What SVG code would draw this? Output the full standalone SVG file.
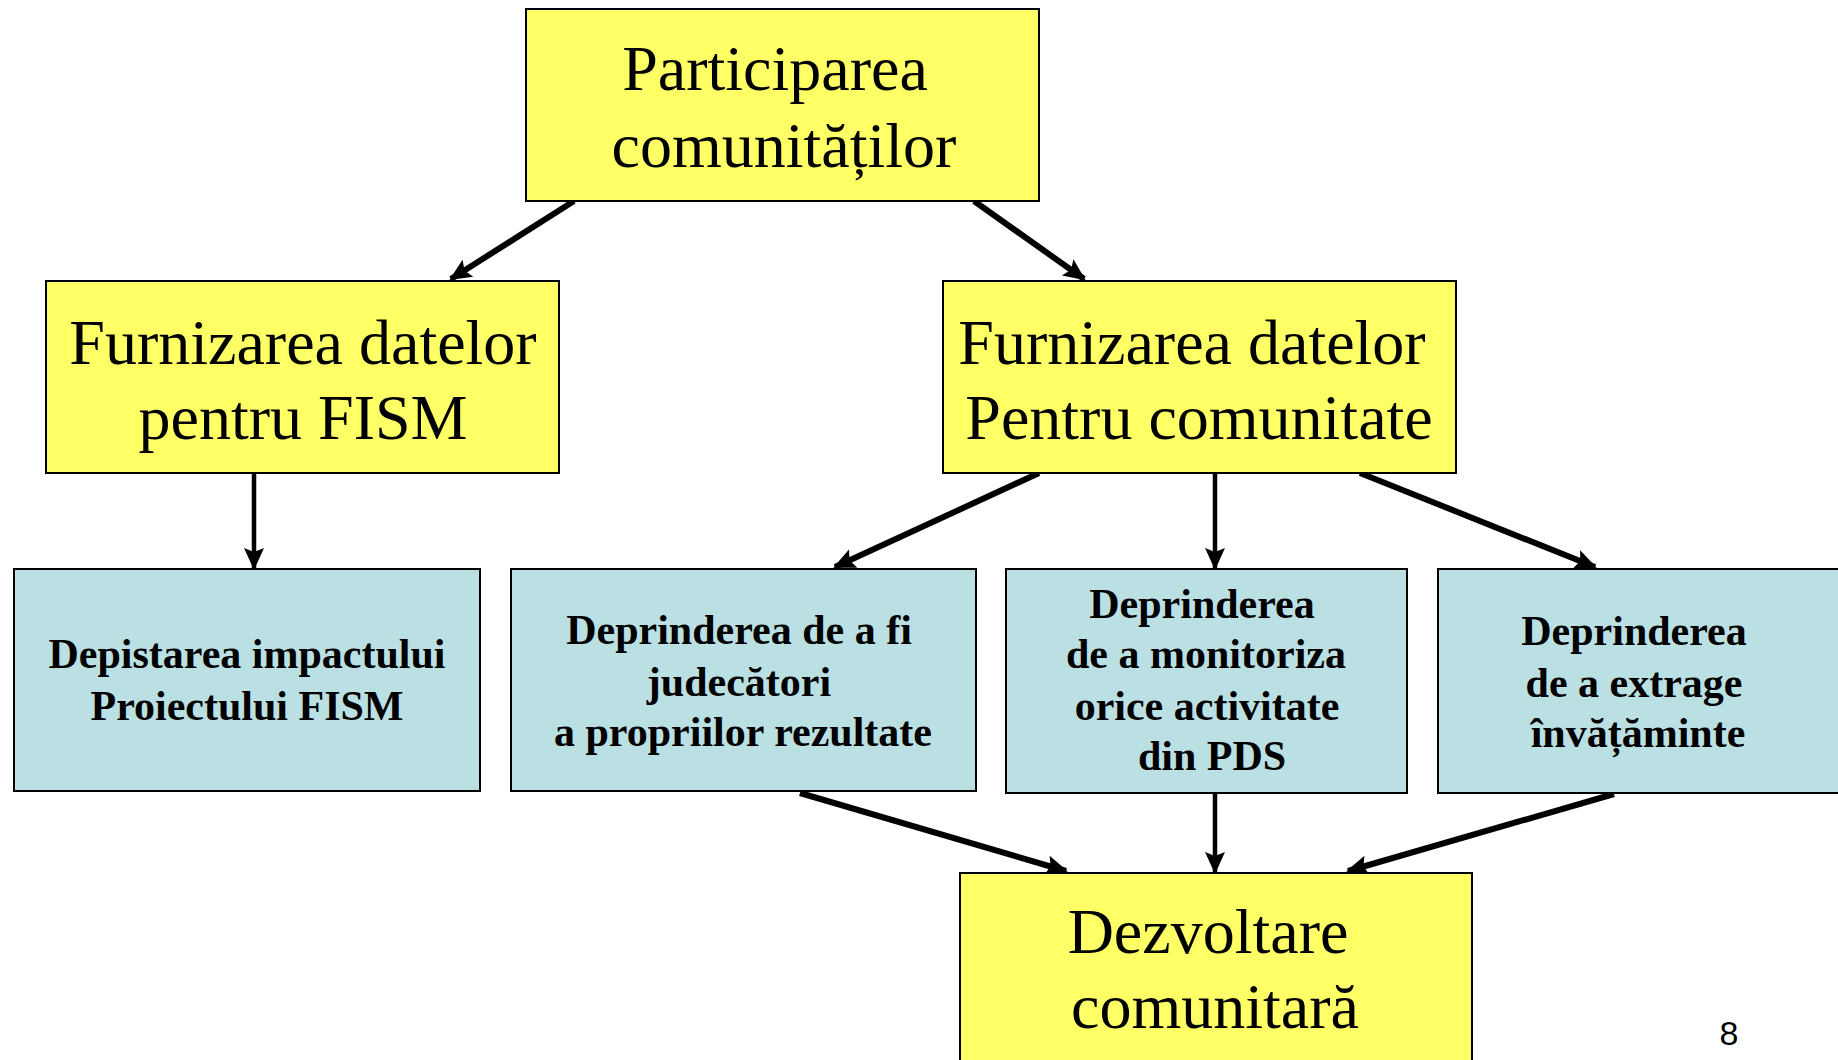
<svg xmlns="http://www.w3.org/2000/svg" width="1838" height="1060" viewBox="0 0 1838 1060">
<style>
.y{fill:#FFFF66;stroke:#000;stroke-width:2}
.b{fill:#BBE0E3;stroke:#000;stroke-width:2}
.ty{font-family:"Liberation Serif","Times New Roman",serif;font-size:64px;fill:#000;text-anchor:middle}
.tb{font-family:"Liberation Serif","Times New Roman",serif;font-size:42px;font-weight:bold;fill:#000;text-anchor:middle}
.c{stroke:#000;fill:none}
.d{stroke-width:6}
.v{stroke-width:4.5}
</style>
<defs>
<marker id="ah" markerUnits="userSpaceOnUse" markerWidth="22" markerHeight="22" viewBox="0 0 22 22" refX="20" refY="11" orient="auto">
<path d="M0,1 L22,11 L0,21 L4,11 Z" fill="#000"/>
</marker>
</defs>
<rect width="1838" height="1060" fill="#fff"/>
<g id="connectors">
<line class="c d" x1="574" y1="201" x2="451" y2="279" marker-end="url(#ah)"/>
<line class="c d" x1="974" y1="201" x2="1084" y2="279" marker-end="url(#ah)"/>
<line class="c v" x1="254" y1="473" x2="254" y2="568" marker-end="url(#ah)"/>
<line class="c d" x1="1039" y1="473" x2="835" y2="567" marker-end="url(#ah)"/>
<line class="c v" x1="1215" y1="473" x2="1215" y2="568" marker-end="url(#ah)"/>
<line class="c d" x1="1360" y1="473" x2="1595" y2="567" marker-end="url(#ah)"/>
<line class="c d" x1="800" y1="793" x2="1066" y2="871" marker-end="url(#ah)"/>
<line class="c v" x1="1215" y1="794" x2="1215" y2="872" marker-end="url(#ah)"/>
<line class="c d" x1="1614" y1="794" x2="1348" y2="871" marker-end="url(#ah)"/>
</g>
<g id="n-participarea">
<rect class="y" x="526" y="9" width="513" height="192"/>
<text class="ty" x="775" y="90">Participarea</text>
<text class="ty" x="784" y="167">comunităților</text>
</g>
<g id="n-fism">
<rect class="y" x="46" y="281" width="513" height="192"/>
<text class="ty" x="303" y="364">Furnizarea datelor</text>
<text class="ty" x="303" y="439">pentru FISM</text>
</g>
<g id="n-comunitate">
<rect class="y" x="943" y="281" width="513" height="192"/>
<text class="ty" x="1192" y="364">Furnizarea datelor</text>
<text class="ty" x="1199" y="439">Pentru comunitate</text>
</g>
<g id="n-depistarea">
<rect class="b" x="14" y="569" width="466" height="222"/>
<text class="tb" x="247" y="668">Depistarea impactului</text>
<text class="tb" x="247" y="720">Proiectului FISM</text>
</g>
<g id="n-judecatori">
<rect class="b" x="511" y="569" width="465" height="222"/>
<text class="tb" x="739" y="644">Deprinderea de a fi</text>
<text class="tb" x="739" y="696">judecători</text>
<text class="tb" x="743" y="746">a propriilor rezultate</text>
</g>
<g id="n-monitoriza">
<rect class="b" x="1006" y="569" width="401" height="224"/>
<text class="tb" x="1202" y="618">Deprinderea</text>
<text class="tb" x="1206" y="668">de a monitoriza</text>
<text class="tb" x="1207" y="720">orice activitate</text>
<text class="tb" x="1212" y="770">din PDS</text>
</g>
<g id="n-invataminte">
<rect class="b" x="1438" y="569" width="410" height="224"/>
<text class="tb" x="1634" y="645">Deprinderea</text>
<text class="tb" x="1634" y="697">de a extrage</text>
<text class="tb" x="1638" y="747">învățăminte</text>
</g>
<g id="n-dezvoltare">
<rect class="y" x="960" y="873" width="512" height="200"/>
<text class="ty" x="1208" y="953">Dezvoltare</text>
<text class="ty" x="1215" y="1028">comunitară</text>
</g>
<text x="1729" y="1045" font-family="Liberation Sans,Arial,sans-serif" font-size="34" text-anchor="middle" fill="#000">8</text>
</svg>
